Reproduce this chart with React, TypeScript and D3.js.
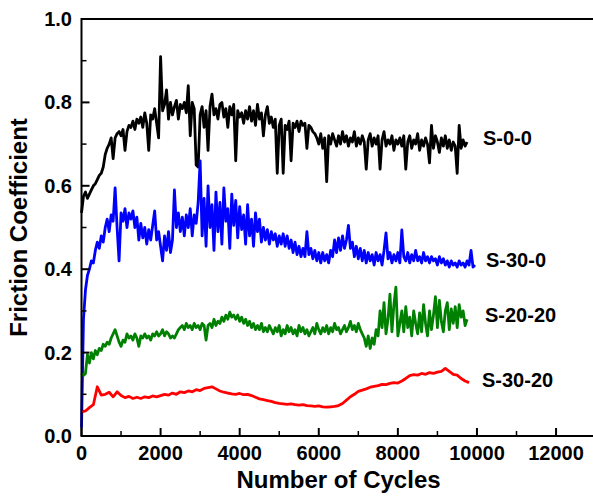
import * as d3 from 'd3';

// friction coefficient traces, sampled every STEP cycles (S-30-20 every RED_STEP)
const STEP = 50;
const RED_STEP = 100;

const s00 = [
  0.535, 0.575, 0.585, 0.57, 0.58, 0.59, 0.60, 0.605, 0.615, 0.625,
  0.63, 0.645, 0.675, 0.69, 0.70, 0.715, 0.665, 0.715, 0.725, 0.73,
  0.72, 0.735, 0.685, 0.73, 0.745, 0.74, 0.755, 0.735, 0.76, 0.75,
  0.765, 0.74, 0.775, 0.75, 0.685, 0.77, 0.76, 0.785, 0.75, 0.715,
  0.91, 0.78, 0.795, 0.83, 0.76, 0.80, 0.77, 0.79, 0.805, 0.76,
  0.795, 0.785, 0.80, 0.775, 0.84, 0.72, 0.80, 0.785, 0.65, 0.645,
  0.77, 0.79, 0.74, 0.78, 0.685, 0.79, 0.82, 0.77, 0.785, 0.76,
  0.795, 0.80, 0.765, 0.785, 0.74, 0.79, 0.77, 0.795, 0.66, 0.78,
  0.765, 0.775, 0.75, 0.78, 0.76, 0.79, 0.755, 0.78, 0.745, 0.795,
  0.76, 0.775, 0.72, 0.77, 0.79, 0.75, 0.765, 0.74, 0.76, 0.63,
  0.745, 0.76, 0.63, 0.745, 0.735, 0.755, 0.66, 0.75, 0.74, 0.755,
  0.73, 0.755, 0.745, 0.75, 0.69, 0.745, 0.74, 0.73, 0.725, 0.715,
  0.70, 0.725, 0.69, 0.715, 0.61, 0.72, 0.70, 0.725, 0.71, 0.695,
  0.72, 0.70, 0.73, 0.705, 0.72, 0.695, 0.715, 0.705, 0.73, 0.695,
  0.715, 0.70, 0.72, 0.705, 0.64, 0.71, 0.725, 0.695, 0.715, 0.70,
  0.72, 0.64, 0.71, 0.73, 0.695, 0.71, 0.70, 0.72, 0.685, 0.71,
  0.70, 0.715, 0.695, 0.72, 0.64, 0.705, 0.72, 0.69, 0.71, 0.70,
  0.725, 0.685, 0.71, 0.695, 0.715, 0.70, 0.655, 0.745, 0.69, 0.72,
  0.705, 0.68, 0.715, 0.695, 0.72, 0.69, 0.71, 0.685, 0.705, 0.695,
  0.63, 0.745, 0.69, 0.71, 0.695, 0.705,
];

const s300 = [
  0.02, 0.28, 0.35, 0.385, 0.40, 0.42, 0.415, 0.445, 0.465, 0.45,
  0.48, 0.465, 0.50, 0.52, 0.49, 0.53, 0.515, 0.595, 0.50, 0.42,
  0.535, 0.515, 0.545, 0.50, 0.535, 0.52, 0.54, 0.50, 0.525, 0.47,
  0.51, 0.475, 0.50, 0.46, 0.495, 0.47, 0.505, 0.54, 0.47, 0.49,
  0.455, 0.42, 0.48, 0.445, 0.49, 0.44, 0.47, 0.59, 0.50, 0.535,
  0.49, 0.525, 0.48, 0.53, 0.50, 0.545, 0.48, 0.53, 0.51, 0.56,
  0.66, 0.48, 0.57, 0.455, 0.60, 0.50, 0.555, 0.445, 0.585, 0.49,
  0.56, 0.46, 0.595, 0.515, 0.545, 0.45, 0.58, 0.505, 0.565, 0.475,
  0.55, 0.495, 0.53, 0.46, 0.555, 0.48, 0.52, 0.455, 0.535, 0.49,
  0.52, 0.465, 0.50, 0.47, 0.495, 0.46, 0.49, 0.47, 0.485, 0.455,
  0.48, 0.46, 0.485, 0.455, 0.48, 0.45, 0.47, 0.44, 0.465, 0.435,
  0.455, 0.43, 0.45, 0.43, 0.49, 0.435, 0.45, 0.425, 0.445, 0.42,
  0.44, 0.415, 0.44, 0.42, 0.435, 0.415, 0.445, 0.43, 0.47, 0.44,
  0.475, 0.445, 0.48, 0.45, 0.47, 0.505, 0.45, 0.465, 0.43, 0.455,
  0.425, 0.45, 0.42, 0.445, 0.415, 0.44, 0.42, 0.435, 0.41, 0.44,
  0.42, 0.435, 0.41, 0.445, 0.487, 0.425, 0.44, 0.415, 0.435, 0.42,
  0.44, 0.415, 0.494, 0.43, 0.42, 0.44, 0.415, 0.435, 0.42, 0.445,
  0.42, 0.43, 0.415, 0.44, 0.42, 0.43, 0.415, 0.43, 0.42, 0.425,
  0.41, 0.43, 0.415, 0.425, 0.41, 0.42, 0.405, 0.42, 0.41, 0.415,
  0.405, 0.42, 0.41, 0.415, 0.405, 0.42, 0.41, 0.445, 0.405, 0.41,
];

const s2020 = [
  0.15, 0.145, 0.15, 0.195, 0.175, 0.20, 0.185, 0.205, 0.195, 0.21,
  0.205, 0.22, 0.215, 0.225, 0.22, 0.235, 0.245, 0.255, 0.24, 0.225,
  0.215, 0.23, 0.225, 0.245, 0.235, 0.24, 0.23, 0.245, 0.235, 0.215,
  0.24, 0.235, 0.245, 0.235, 0.24, 0.23, 0.245, 0.24, 0.25, 0.24,
  0.245, 0.255, 0.24, 0.25, 0.245, 0.235, 0.24, 0.235, 0.245, 0.255,
  0.26, 0.265, 0.255, 0.27, 0.26, 0.265, 0.255, 0.27, 0.26, 0.265,
  0.255, 0.27, 0.265, 0.23, 0.265, 0.27, 0.26, 0.28, 0.265, 0.275,
  0.27, 0.285, 0.275, 0.29, 0.28, 0.297, 0.285, 0.29, 0.28, 0.29,
  0.275, 0.285, 0.27, 0.28, 0.265, 0.275, 0.26, 0.27, 0.255, 0.265,
  0.255, 0.27, 0.25, 0.26, 0.25, 0.265, 0.255, 0.245, 0.26, 0.25,
  0.265, 0.24, 0.255, 0.245, 0.265, 0.25, 0.26, 0.245, 0.255, 0.24,
  0.265, 0.25, 0.26, 0.245, 0.255, 0.24, 0.25, 0.26, 0.245, 0.27,
  0.255, 0.245, 0.26, 0.25, 0.265, 0.245, 0.26, 0.25, 0.27, 0.255,
  0.26, 0.245, 0.255, 0.265, 0.25, 0.26, 0.275, 0.255, 0.265, 0.25,
  0.27, 0.255, 0.245, 0.235, 0.215, 0.24, 0.21, 0.235, 0.22, 0.255,
  0.24, 0.30, 0.26, 0.32, 0.245, 0.28, 0.34, 0.25, 0.315, 0.357,
  0.24, 0.27, 0.30, 0.25, 0.31, 0.26, 0.285, 0.24, 0.30, 0.27,
  0.245, 0.295, 0.25, 0.315, 0.27, 0.24, 0.30, 0.255, 0.29, 0.334,
  0.26, 0.325, 0.275, 0.25, 0.30, 0.32, 0.255, 0.305, 0.27, 0.31,
  0.26, 0.315, 0.285, 0.30, 0.265, 0.28,
];

const s3020 = [
  0.058, 0.06, 0.068, 0.075, 0.118, 0.098, 0.10, 0.105, 0.094, 0.106,
  0.097, 0.092, 0.095, 0.09, 0.093, 0.09, 0.094, 0.092, 0.096, 0.094,
  0.097, 0.10, 0.098, 0.103, 0.10, 0.106, 0.104, 0.108, 0.106, 0.111,
  0.109, 0.114, 0.116, 0.118, 0.113, 0.108, 0.105, 0.103, 0.101, 0.10,
  0.102, 0.099, 0.10, 0.097, 0.093, 0.089, 0.087, 0.085, 0.083, 0.08,
  0.078, 0.077, 0.076, 0.077, 0.075, 0.074, 0.075, 0.073, 0.072, 0.071,
  0.072, 0.07, 0.069, 0.07, 0.071, 0.073, 0.078, 0.086, 0.094, 0.10,
  0.107, 0.11, 0.113, 0.117, 0.119, 0.121, 0.124, 0.123, 0.126, 0.128,
  0.127, 0.132, 0.138, 0.145, 0.147, 0.146, 0.15, 0.148, 0.152, 0.15,
  0.153, 0.155, 0.162, 0.155, 0.148, 0.146, 0.138, 0.132, 0.128,
];

const seriesNames = ['S-0-0', 'S-30-0', 'S-20-20', 'S-30-20'];
const seriesColors = ['#000000', '#0000ff', '#008000', '#ff0000'];
const labelPos = [[483, 145], [486, 267], [485, 322], [482, 387]];

const xTicks = [0, 2000, 4000, 6000, 8000, 10000, 12000];
const xMinor = [1000, 3000, 5000, 7000, 9000, 11000];
const yTicks = [0, 0.2, 0.4, 0.6, 0.8, 1.0];
const yMinor = [0.1, 0.3, 0.5, 0.7, 0.9];

const W = 593;
const H = 496;
const font = '"Liberation Sans", Arial, Helvetica, sans-serif';

export default function App() {
  const x = d3.scaleLinear().domain([0, 13000]).range([81.5, 595.6]);
  const y = d3.scaleLinear().domain([0, 1]).range([436, 19]);

  const line = d3.line<[number, number]>()
    .x(d => x(d[0]))
    .y(d => y(d[1]));

  const traces = [
    s00.map((v, i) => [i * STEP, v] as [number, number]),
    s300.map((v, i) => [i * STEP, v] as [number, number]),
    s2020.map((v, i) => [i * STEP, v] as [number, number]),
    s3020.map((v, i) => [i * RED_STEP, v] as [number, number]),
  ];

  const x0 = x(0);
  const y0 = y(0);

  return (
    <svg width={W} height={H} style={{ position: 'absolute', left: 0, top: 0 }} fontFamily={font} fontWeight="bold">
      <rect width={W} height={H} fill="white" />
      {traces.map((t, i) => (
        <path key={seriesNames[i]} d={line(t) || ''} fill="none" stroke={seriesColors[i]}
          strokeWidth={2.8} strokeLinejoin="round" />
      ))}

      {/* frame */}
      <line x1={x0} y1={y(1)} x2={x(13000)} y2={y(1)} stroke="black" strokeWidth={2} />
      <line x1={x0} y1={y0} x2={x(13000)} y2={y0} stroke="black" strokeWidth={2} />
      <line x1={x0} y1={y0 + 1} x2={x0} y2={y(1) - 1} stroke="black" strokeWidth={2} />

      {xTicks.map(t => (
        <g key={t}>
          <line x1={x(t)} x2={x(t)} y1={y0} y2={y0 - 8} stroke="black" strokeWidth={2} />
          <text x={x(t)} y={460} textAnchor="middle" fontSize={20}>{t}</text>
        </g>
      ))}
      {xMinor.map(t => (
        <line key={t} x1={x(t)} x2={x(t)} y1={y0} y2={y0 - 5} stroke="black" strokeWidth={1.5} />
      ))}
      {yTicks.map(t => (
        <g key={t}>
          <line x1={x0} x2={x0 + 8} y1={y(t)} y2={y(t)} stroke="black" strokeWidth={2} />
          <text x={72} y={y(t) + 7} textAnchor="end" fontSize={20}>{t.toFixed(1)}</text>
        </g>
      ))}
      {yMinor.map(t => (
        <line key={t} x1={x0} x2={x0 + 5} y1={y(t)} y2={y(t)} stroke="black" strokeWidth={1.5} />
      ))}

      <text x={(x0 + x(13000)) / 2} y={488} textAnchor="middle" fontSize={24}>Number of Cycles</text>
      <text transform={`translate(27, ${(y(0) + y(1)) / 2}) rotate(-90)`} textAnchor="middle" fontSize={24}>
        Friction Coefficient
      </text>

      {seriesNames.map((n, i) => (
        <text key={n} x={labelPos[i][0]} y={labelPos[i][1]} fontSize={20}>{n}</text>
      ))}
    </svg>
  );
}
